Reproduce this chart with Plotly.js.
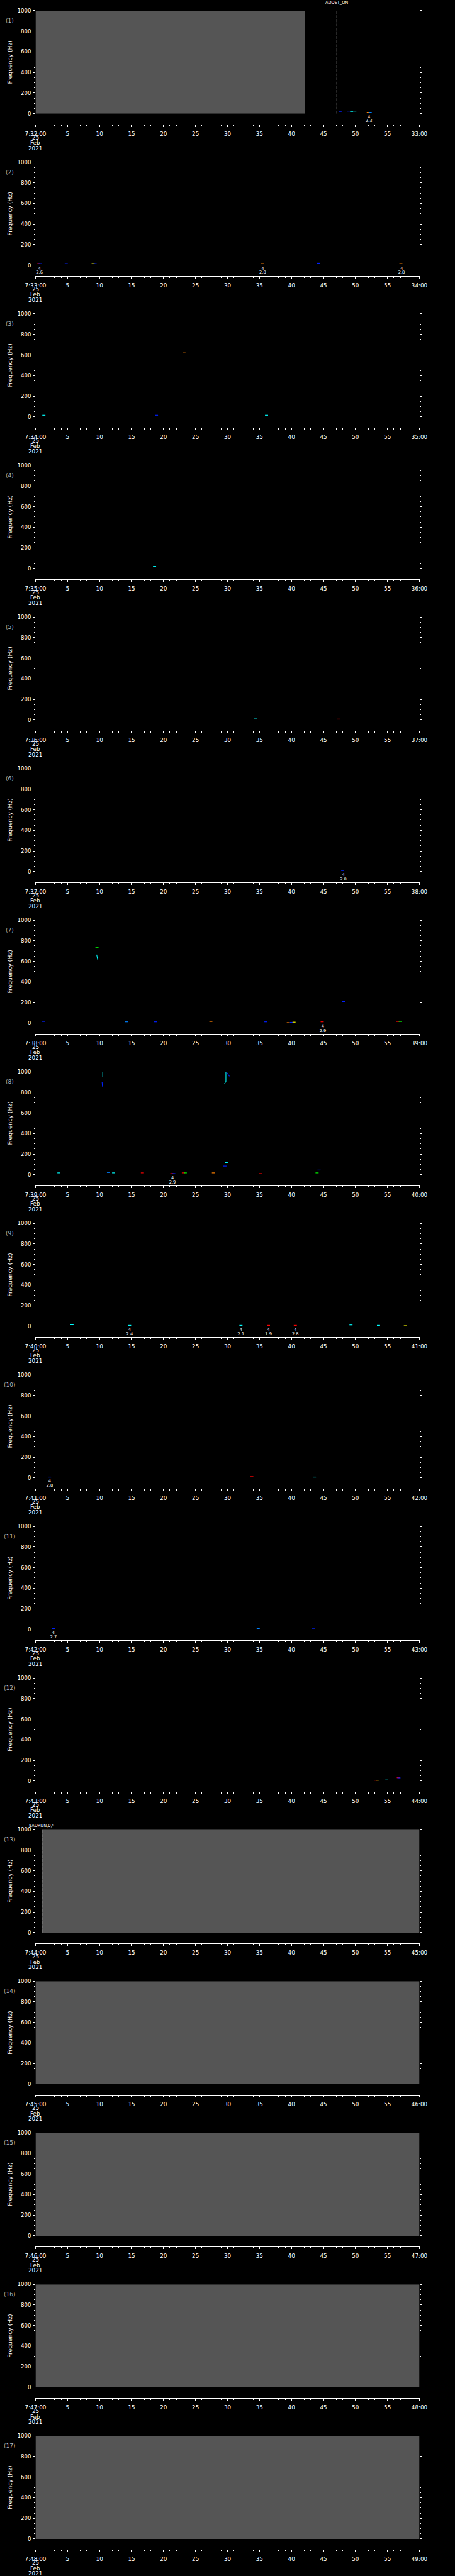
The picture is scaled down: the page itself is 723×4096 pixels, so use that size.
<!DOCTYPE html>
<html><head><meta charset="utf-8">
<script src="https://cdn.plot.ly/plotly-3.0.1.min.js"></script>
<style>html,body{margin:0;padding:0;background:#000;}#chart{width:723px;height:4096px;}</style>
</head><body><div id="chart"></div>
<script>
// ---------------- DATA ----------------
const panelNames = ['(1)','(2)','(3)','(4)','(5)','(6)','(7)','(8)','(9)','(10)','(11)','(12)','(13)','(14)','(15)','(16)','(17)'];
const startLabels = ['7:32:00','7:33:00','7:34:00','7:35:00','7:36:00','7:37:00','7:38:00','7:39:00','7:40:00','7:41:00','7:42:00','7:43:00','7:44:00','7:45:00','7:46:00','7:47:00','7:48:00'];
const endLabels = ['33:00','34:00','35:00','36:00','37:00','38:00','39:00','40:00','41:00','42:00','43:00','44:00','45:00','46:00','47:00','48:00','49:00'];
const secTickVals = [0,5,10,15,20,25,30,35,40,45,50,55,60];
const secTickLabels = ['5','10','15','20','25','30','35','40','45','50','55'];
const dateLines = ['25','Feb','2021'];
const freqTickVals = [0,200,400,600,800,1000];

// no-data (grey) intervals, seconds within each minute
const gapPanel = [1, 13, 14, 15, 16, 17];
const gapStart = [0, 1.0, 0, 0, 0, 0];
const gapEnd   = [42.1, 60, 60, 60, 60, 60];

// event markers
const eventPanel = [1, 13];
const eventTime  = [47.1, 1.0];
const eventLabel = ['ADDET_ON', '$ADRUN,0,*'];

// spectral peaks: panel, second, frequency (Hz), intensity level (0..1)
const peakPanel = [1,1,1,1,1,1,1,1, 2,2,2,2,2,2,2,2, 3,3,3,3, 4, 5,5, 6,
  7,7,7,7,7,7,7,7,7,7,7,7,7,
  8,8,8,8,8,8,8,8,8,8,8,8,8,8,
  9,9,9,9,9,9,9,9, 10,10,10, 11,11,11, 12,12,12,12,12];
const peakTime = [47.6,48.9,49.4,49.9,52.0,52.3,60.5,60.8, 0.5,0.7,4.8,9.0,9.3,35.5,44.2,57.1, 1.3,18.9,23.2,36.1, 18.6, 34.4,47.4, 48.0,
  1.25,9.6,14.2,18.7,27.4,36.0,39.5,40.0,40.4,44.8,48.1,56.6,57.0,
  3.65,11.4,12.2,16.7,21.3,21.6,23.1,23.4,27.8,29.6,29.8,35.2,44.0,44.3,
  5.7,14.7,32.1,36.4,40.6,49.3,53.6,57.8, 2.2,33.8,43.6, 2.8,34.8,43.4, 53.2,53.5,54.9,56.7,56.8];
const peakFreq = [22,25,22,25,13,13,13,13, 16,16,16,16,16,16,20,16, 15,15,629,15, 19, 10,8, 10,
  17,733,13,13,17,13,5,8,10,13,210,17,17,
  18,22,18,18,11,11,18,18,18,84,118,11,18,45,
  15,9,9,9,9,13,9,5, 8,12,8, 8,8,11, 8,8,20,32,30];
const peakLevel = [0.05,0.05,0.4,0.4,0.85,0.2,1,0.05, 1,0.05,0.05,0.7,0.05,0.85,0.05,0.85, 0.4,0.05,0.85,0.4, 0.4, 0.4,1, 0.05,
  0.05,0.55,0.2,0.05,0.85,0.05,0.85,0.05,0.7,1,0.05,1,0.55,
  0.4,0.2,0.4,1,1,0.05,1,0.55,0.85,0.05,0.4,1,0.55,0.05,
  0.4,0.4,0.4,1,1,0.4,0.4,0.7, 0.05,1,0.4, 0.05,0.2,0.05, 1,0.7,0.4,1,0.05];

// short streaks of emission
const streakPanel = [7, 8, 8, 8, 8];
const streakTimes = [[9.55,9.6,9.7],[10.5,10.5],[10.4,10.45],[29.5,29.75,29.75],[29.8,30.3]];
const streakFreqs = [[665,640,618],[945,1000],[900,855],[880,905,1000],[1000,955]];
const streakLevel = [0.4, 0.4, 0.05, 0.4, 0.05];

// detections: panel, second, code, value
const detPanel = [1,1, 2,2,2, 6, 7, 8, 9,9,9,9, 10, 11];
const detTime  = [52.1,60.6, 0.6,35.5,57.2, 48.1, 44.9, 21.4, 14.7,32.1,36.4,40.6, 2.2, 2.8];
const detCode  = ['4','4', '4','4','4', '4', '4', '4', '4','4','4','4', '4', '4'];
const detValue = ['2.3','2.6', '2.6','2.8','2.8', '2.0', '2.9', '2.9', '2.4','2.1','1.9','2.8', '2.8', '2.7'];

// ---------------- STYLE / GEOMETRY ----------------
const W = 723, H = 4096, REF_W = 1024, REF_H = 5802;
const TOP0 = 24, PERIOD = 341.4, PLOT_H = 232, AXIS_GAP = 256, LEFT = 80, RIGHT = 944;
const FONT = 'DejaVu Sans, sans-serif';
const palette = [[0,'#0000ff'],[0.2,'#0080ff'],[0.4,'#00ffff'],[0.55,'#00ff00'],[0.7,'#ffff00'],[0.85,'#ff8000'],[1,'#ff0000']];
const eventLift = [12.7, 5.9];
function py(refY){ return 1 - refY / REF_H; }
function hex2rgb(h){ return [parseInt(h.slice(1,3),16),parseInt(h.slice(3,5),16),parseInt(h.slice(5,7),16)]; }
function levelColor(v){
  for (let k = 1; k < palette.length; k++) {
    if (v <= palette[k][0]) {
      const a = palette[k-1], b = palette[k], f = (v - a[0]) / (b[0] - a[0]);
      const ca = hex2rgb(a[1]), cb = hex2rgb(b[1]);
      return 'rgb(' + ca.map((c,j)=>Math.round(c + (cb[j]-c)*f)).join(',') + ')';
    }
  }
  return palette[palette.length-1][1];
}

const traces = [];
const layout = {
  width: W, height: H, margin: {l:0, r:0, t:0, b:0},
  paper_bgcolor: '#000', plot_bgcolor: '#000', showlegend: false,
  barmode: 'overlay', hovermode: false, annotations: []
};
const xDom = [LEFT / REF_W, RIGHT / REF_W];

for (let i = 0; i < 17; i++) {
  const p = i + 1;
  const xa = p === 1 ? 'x' : 'x' + p, ya = p === 1 ? 'y' : 'y' + p;
  const top = TOP0 + i * PERIOD, bot = top + PLOT_H, axisY = top + AXIS_GAP;

  layout[p === 1 ? 'xaxis' : 'xaxis' + p] = {
    domain: xDom, anchor: 'free', position: py(axisY), range: [0, 60], fixedrange: true,
    showline: true, linecolor: '#fff', linewidth: 1, showgrid: false, zeroline: false,
    ticks: 'outside', ticklen: 3.5, tickwidth: 1, tickcolor: '#fff',
    tickmode: 'array', tickvals: secTickVals,
    ticktext: [startLabels[i]].concat(secTickLabels, [endLabels[i]]),
    tickfont: {family: FONT, size: 8.8, color: '#fff'}, tickangle: 0, ticklabelstandoff: 3,
    minor: {tickmode: 'linear', tick0: 0, dtick: 1, ticks: 'outside', ticklen: 2.2, tickwidth: 1, tickcolor: '#fff'}
  };
  layout[p === 1 ? 'yaxis' : 'yaxis' + p] = {
    domain: [py(bot), py(top)], anchor: xa, range: [0, 1000], fixedrange: true,
    showline: true, linecolor: '#fff', linewidth: 1, mirror: 'ticks', showgrid: false, zeroline: false,
    ticks: 'outside', ticklen: 3.3, tickwidth: 1, tickcolor: '#fff',
    tickmode: 'array', tickvals: freqTickVals, ticklabelstandoff: 1,
    tickfont: {family: FONT, size: 8.6, color: '#fff'},
    minor: {tickmode: 'linear', tick0: 0, dtick: 50, ticks: 'outside', ticklen: 1.9, tickwidth: 1, tickcolor: '#fff'},
    title: {text: 'Frequency (Hz)', font: {family: FONT, size: 9.2, color: '#fff'}, standoff: 6}
  };

  // grey no-data blocks
  const gx = [], gw = [], gy = [];
  gapPanel.forEach((gp, k) => { if (gp === p) { gx.push((gapStart[k] + gapEnd[k]) / 2); gw.push(gapEnd[k] - gapStart[k]); gy.push(1000); } });
  if (gx.length) traces.push({type: 'bar', x: gx, y: gy, width: gw, base: 0, xaxis: xa, yaxis: ya,
    marker: {color: '#555555', line: {width: 0}}, hoverinfo: 'skip'});

  // streaks
  streakPanel.forEach((sp, k) => { if (sp === p) traces.push({type: 'scatter', mode: 'lines', x: streakTimes[k], y: streakFreqs[k],
    xaxis: xa, yaxis: ya, line: {color: levelColor(streakLevel[k]), width: 1.1}, hoverinfo: 'skip'}); });

  // peaks
  const px = [], pf = [], pl = [];
  peakPanel.forEach((pp, k) => { if (pp === p) { px.push(peakTime[k]); pf.push(peakFreq[k]); pl.push(peakLevel[k]); } });
  traces.push({type: 'scatter', mode: 'markers', x: px, y: pf, xaxis: xa, yaxis: ya, cliponaxis: false,
    marker: {symbol: 'line-ew', size: 3.5, line: {width: 1.2, color: pl, colorscale: palette, cmin: 0, cmax: 1}}, hoverinfo: 'skip'});

  // events
  eventPanel.forEach((ep, k) => {
    if (ep !== p) return;
    traces.push({type: 'scatter', mode: 'lines', x: [eventTime[k], eventTime[k]], y: [0, 1000], xaxis: xa, yaxis: ya,
      line: {color: '#fff', width: 1, dash: '4.7px,1.9px'}, hoverinfo: 'skip'});
    layout.annotations.push({xref: xa, yref: ya, x: eventTime[k], y: 1000, yanchor: 'middle', xanchor: 'center',
      yshift: eventLift[k], showarrow: false, text: eventLabel[k], font: {family: FONT, size: 6.6, color: '#fff'}});
  });

  // detections
  const dx = [], dc = [], dv = [];
  detPanel.forEach((dp, k) => { if (dp === p) { dx.push(detTime[k]); dc.push(detCode[k]); dv.push(detValue[k]); } });
  if (dx.length) {
    const zeros = dx.map(() => 0);
    traces.push({type: 'scatter', mode: 'markers+text', x: dx, y: zeros, text: dc, textposition: 'bottom center',
      xaxis: xa, yaxis: ya, cliponaxis: false, marker: {size: 2.2, opacity: 0},
      textfont: {family: FONT, size: 6.7, color: '#fff'}, hoverinfo: 'skip'});
    traces.push({type: 'scatter', mode: 'markers+text', x: dx, y: zeros, text: dv, textposition: 'bottom center',
      xaxis: xa, yaxis: ya, cliponaxis: false, marker: {size: 12.4, opacity: 0},
      textfont: {family: FONT, size: 6.7, color: '#fff'}, hoverinfo: 'skip'});
  }

  // panel number
  layout.annotations.push({xref: 'paper', yref: 'paper', x: 15 / W, y: py(top + 23), xanchor: 'center', yanchor: 'middle',
    showarrow: false, text: panelNames[i], font: {family: FONT, size: 9, color: '#b4b4b4'}});
  // date lines under first time tick
  dateLines.forEach((dl, k) => {
    layout.annotations.push({xref: xa, yref: 'paper', x: 0, y: py(axisY + 30 + 12 * k), xanchor: 'center', yanchor: 'middle',
      showarrow: false, text: dl, font: {family: FONT, size: 8.8, color: '#fff'}});
  });
}

Plotly.newPlot('chart', traces, layout, {staticPlot: true, displayModeBar: false});
</script></body></html>
